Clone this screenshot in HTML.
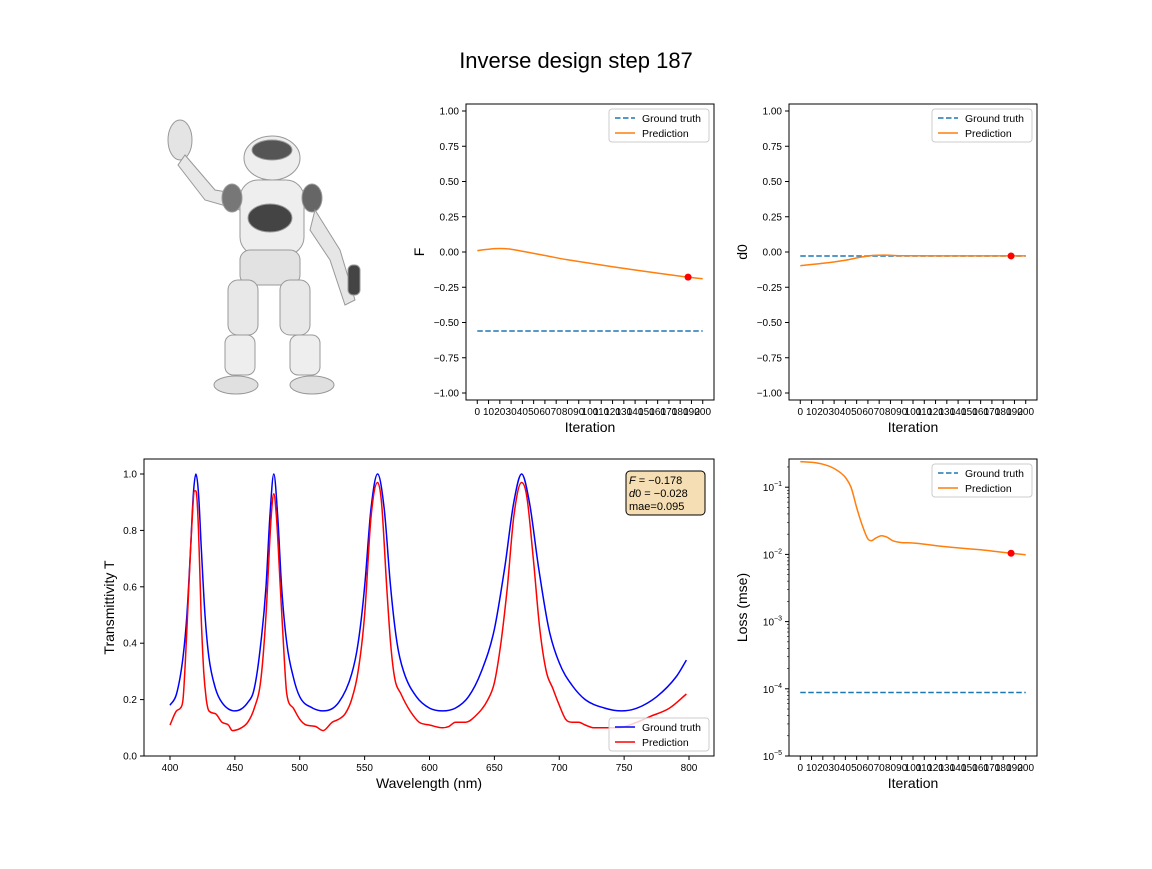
<!DOCTYPE html>
<html><head><meta charset="utf-8">
<style>
body{margin:0;background:#fff;}
svg text{font-family:"Liberation Sans","DejaVu Sans",sans-serif;fill:#000;}
</style></head>
<body>
<svg id="fig" width="1152" height="864" xmlns="http://www.w3.org/2000/svg">
<rect width="1152" height="864" fill="#fff"/>
<text x="576" y="68" font-size="22" text-anchor="middle">Inverse design step 187</text>
<g fill="#d8d8d8" stroke="#999" stroke-width="1">
  <ellipse cx="180" cy="140" rx="12" ry="20" fill="#e4e4e4"/>
  <path d="M185 155 L215 190 L245 195 L240 210 L205 200 L178 165 Z" fill="#e8e8e8"/>
  <ellipse cx="272" cy="158" rx="28" ry="22" fill="#eee"/>
  <ellipse cx="272" cy="150" rx="20" ry="10" fill="#555"/>
  <rect x="240" y="180" width="64" height="75" rx="18" fill="#eee"/>
  <ellipse cx="270" cy="218" rx="22" ry="14" fill="#444"/>
  <ellipse cx="232" cy="198" rx="10" ry="14" fill="#777"/>
  <ellipse cx="312" cy="198" rx="10" ry="14" fill="#666"/>
  <path d="M315 210 L340 250 L355 300 L345 305 L330 260 L310 230 Z" fill="#e6e6e6"/>
  <rect x="348" y="265" width="12" height="30" rx="5" fill="#444"/>
  <rect x="240" y="250" width="60" height="35" rx="10" fill="#e2e2e2"/>
  <rect x="228" y="280" width="30" height="55" rx="10" fill="#e8e8e8"/>
  <rect x="280" y="280" width="30" height="55" rx="10" fill="#e8e8e8"/>
  <rect x="225" y="335" width="30" height="40" rx="8" fill="#eee"/>
  <rect x="290" y="335" width="30" height="40" rx="8" fill="#eee"/>
  <ellipse cx="236" cy="385" rx="22" ry="9" fill="#e0e0e0"/>
  <ellipse cx="312" cy="385" rx="22" ry="9" fill="#e0e0e0"/>
</g>
<g id="plots"></g>
</svg>
<script>
// ---- data ----
const iterTicks=[0,10,20,30,40,50,60,70,80,90,100,110,120,130,140,150,160,170,180,190,200];
const fIter=[0,10,20,30,40,60,80,100,120,140,160,187,200];
const fPred=[0.01,0.02,0.025,0.02,0.005,-0.025,-0.055,-0.08,-0.105,-0.128,-0.15,-0.178,-0.19];
const fTruth=-0.56;
const dIter=[0,20,40,55,65,75,90,120,160,187,200];
const dPred=[-0.097,-0.08,-0.058,-0.035,-0.024,-0.022,-0.027,-0.028,-0.028,-0.028,-0.028];
const dTruth=-0.028;
const lossIter=[0,10,20,30,40,45,50,55,60,63,67,72,77,82,90,100,120,140,160,187,200];
const lossPred=[0.24,0.235,0.22,0.19,0.14,0.1,0.05,0.027,0.017,0.016,0.0175,0.019,0.018,0.016,0.015,0.0148,0.0135,0.0125,0.0117,0.0104,0.0099];
const lossTruth=8.8e-5;
const markIter=187;
const wlTruth=[400,405,410,413,416,418,420,422,424,427,430,435,440,450,460,465,470,474,477,480,483,486,490,495,500,510,518,530,540,545,550,555,560,565,570,575,580,590,600,610,620,630,640,650,658,665,671,677,684,692,700,710,720,735,748,760,775,790,798];
const tTruth=[0.18,0.22,0.35,0.5,0.75,0.93,1.0,0.93,0.75,0.5,0.35,0.24,0.19,0.16,0.19,0.24,0.4,0.6,0.85,1.0,0.85,0.6,0.4,0.28,0.21,0.17,0.16,0.19,0.29,0.4,0.6,0.88,1.0,0.88,0.6,0.4,0.3,0.21,0.17,0.16,0.17,0.21,0.3,0.45,0.67,0.9,1.0,0.9,0.67,0.45,0.33,0.25,0.2,0.17,0.16,0.17,0.21,0.28,0.34];
const wlPred=[400,405,408,410,413,416,419,420,422,424,426,428,430,435,440,445,448,455,460,465,470,474,478,480,482,485,488,490,495,500,505,512,518,525,530,535,540,545,550,555,560,563,567,570,573,578,585,592,600,610,615,620,628,635,645,650,655,660,665,671,675,680,685,690,695,700,705,710,715,720,727,735,745,760,770,785,798];
const tPred=[0.11,0.16,0.17,0.2,0.45,0.75,0.94,0.94,0.8,0.5,0.3,0.2,0.16,0.15,0.12,0.11,0.09,0.1,0.12,0.17,0.27,0.5,0.85,0.93,0.85,0.6,0.35,0.22,0.17,0.13,0.11,0.105,0.09,0.12,0.13,0.15,0.2,0.3,0.5,0.85,0.97,0.9,0.6,0.4,0.28,0.22,0.16,0.12,0.11,0.1,0.105,0.12,0.12,0.14,0.2,0.26,0.4,0.6,0.85,0.97,0.92,0.7,0.45,0.3,0.24,0.18,0.13,0.12,0.12,0.11,0.1,0.1,0.1,0.12,0.14,0.17,0.22];
const wlTicks=[400,450,500,550,600,650,700,750,800];
const tTicks=[0,0.2,0.4,0.6,0.8,1.0];
const linTicks=[-1,-0.75,-0.5,-0.25,0,0.25,0.5,0.75,1];
const logTicks=[-5,-4,-3,-2,-1];

const NS='http://www.w3.org/2000/svg';
const root=document.getElementById('plots');
function el(tag,attrs,parent){const e=document.createElementNS(NS,tag);for(const k in attrs)e.setAttribute(k,attrs[k]);(parent||root).appendChild(e);return e;}
function txt(s,x,y,size,anchor,parent){const t=el('text',{x:x,y:y,'font-size':size,'text-anchor':anchor||'middle'},parent);t.textContent=s;return t;}
function fmt(v){return (v<0?'\u2212':'')+Math.abs(v).toFixed(2);}
function interp(xs,ys,x){for(let i=0;i<xs.length-1;i++){if(x>=xs[i]&&x<=xs[i+1]){const t=(x-xs[i])/(xs[i+1]-xs[i]);return ys[i]+t*(ys[i+1]-ys[i]);}}return ys[ys.length-1];}
// monotone cubic (Fritsch-Carlson) smooth path in pixel space
function pathFrom(xs,ys,sx,sy){
  const X=xs.map(sx),Y=ys.map(sy),n=X.length;
  const d=[],m=[];
  for(let i=0;i<n-1;i++)d.push((Y[i+1]-Y[i])/(X[i+1]-X[i]));
  m[0]=d[0];m[n-1]=d[n-2];
  for(let i=1;i<n-1;i++){m[i]=(d[i-1]*d[i]<=0)?0:(d[i-1]+d[i])/2;}
  for(let i=0;i<n-1;i++){if(d[i]===0){m[i]=0;m[i+1]=0;continue;}const a=m[i]/d[i],b=m[i+1]/d[i],s=a*a+b*b;if(s>9){const t=3/Math.sqrt(s);m[i]=t*a*d[i];m[i+1]=t*b*d[i];}}
  let p='M'+X[0].toFixed(1)+' '+Y[0].toFixed(1);
  for(let i=0;i<n-1;i++){const h=(X[i+1]-X[i])/3;p+=' C'+(X[i]+h).toFixed(1)+' '+(Y[i]+m[i]*h).toFixed(1)+' '+(X[i+1]-h).toFixed(1)+' '+(Y[i+1]-m[i+1]*h).toFixed(1)+' '+X[i+1].toFixed(1)+' '+Y[i+1].toFixed(1);}
  return p;
}

function frame(name){
  const g=el('g',{});
  
  
  return g;
}
function border(g,x0,y0,x1,y1){el('rect',{x:x0,y:y0,width:x1-x0,height:y1-y0,fill:'none',stroke:'#000','stroke-width':1},g);}
function legend(g,x,y,w,labels,colors,dashes){
  const lg=el('g',{},g);
  
  
  el('rect',{x:x,y:y,width:w,height:33,rx:3,fill:'#fff','fill-opacity':0.8,stroke:'#ccc'},lg);
  labels.forEach((l,i)=>{
    const yy=y+9+i*15;
    const ln=el('line',{x1:x+6,x2:x+26,y1:yy,y2:yy,stroke:colors[i],'stroke-width':1.5,'stroke-dasharray':dashes[i]},lg);
    
    
    const t=txt(l,x+33,yy+4,10.5,'start',lg);
    
    
  });
}
function iterAxis(g,sx,yb){
  iterTicks.forEach(v=>{
    el('line',{x1:sx(v),x2:sx(v),y1:yb,y2:yb+4,stroke:'#000'},g);
    const t=txt(String(v),sx(v),yb+15,10,'middle',g);
    
    
  });
  const xl=txt('Iteration',(sx(-10)+sx(210))/2,yb+32,14,'middle',g);
  
  
}

function paramPanel(name,ylabel,x0,it,pred,truth){
  const y0=104,y1=400,x1=x0+248;
  const g=frame(name);
  const sx=v=>x0+(v+10)*248/220;
  const sy=v=>252-v*141;
  linTicks.forEach(v=>{
    el('line',{x1:x0,x2:x0-4,y1:sy(v),y2:sy(v),stroke:'#000'},g);
    const t=txt(fmt(v),x0-7,sy(v)+3.5,10,'end',g);
    
    
  });
  iterAxis(g,sx,y1);
  const yl=txt(ylabel,0,0,14,'middle',g);
  yl.setAttribute('transform','translate('+(x0-42)+','+((y0+y1)/2)+') rotate(-90)');
  
  
  const gt=el('line',{x1:sx(0),x2:sx(200),y1:sy(truth),y2:sy(truth),stroke:'#1f77b4','stroke-width':1.5,'stroke-dasharray':'5.5,2.5'},g);
  
  
  const p=el('path',{d:pathFrom(it,pred,sx,sy),fill:'none',stroke:'#ff7f0e','stroke-width':1.5},g);
  
  
  const m=el('circle',{cx:sx(markIter),cy:sy(interp(it,pred,markIter)),r:3.5,fill:'red'},g);
  
  
  border(g,x0,y0,x1,y1);
  legend(g,x1-105,y0+5,100,['Ground truth','Prediction'],['#1f77b4','#ff7f0e'],['5.5,2.5','none']);
}
paramPanel('f-panel','F',466,fIter,fPred,fTruth);
paramPanel('d0-panel','d0',789,dIter,dPred,dTruth);

(function(){
  const x0=789,x1=1037,y0=459,y1=756;
  const g=frame('loss-panel');
  const sx=v=>x0+(v+10)*248/220;
  const sy=v=>756-(Math.log10(v)+5)*67.2;
  for(let d=-5;d<-0.5;d++){for(let k=2;k<10;k++){const v=k*Math.pow(10,d);const yy=sy(v);if(yy>y0)el('line',{x1:x0,x2:x0-2,y1:yy,y2:yy,stroke:'#000','stroke-width':0.6},g);}}
  logTicks.forEach(e=>{
    const yy=sy(Math.pow(10,e));
    el('line',{x1:x0,x2:x0-4,y1:yy,y2:yy,stroke:'#000'},g);
    const t=el('text',{x:x0-7,y:yy+4,'font-size':10,'text-anchor':'end'},g);
    
    
    t.innerHTML='10<tspan dy="-5" font-size="7">\u2212'+Math.abs(e)+'</tspan>';
  });
  iterAxis(g,sx,y1);
  const yl=txt('Loss (mse)',0,0,14,'middle',g);
  yl.setAttribute('transform','translate('+(x0-42)+','+((y0+y1)/2)+') rotate(-90)');
  
  
  const gt=el('line',{x1:sx(0),x2:sx(200),y1:sy(lossTruth),y2:sy(lossTruth),stroke:'#1f77b4','stroke-width':1.5,'stroke-dasharray':'5.5,2.5'},g);
  
  
  const p=el('path',{d:pathFrom(lossIter,lossPred,sx,sy),fill:'none',stroke:'#ff7f0e','stroke-width':1.5},g);
  
  
  const m=el('circle',{cx:sx(markIter),cy:sy(interp(lossIter,lossPred,markIter)),r:3.5,fill:'red'},g);
  
  
  border(g,x0,y0,x1,y1);
  legend(g,x1-105,y0+5,100,['Ground truth','Prediction'],['#1f77b4','#ff7f0e'],['5.5,2.5','none']);
})();

(function(){
  const x0=144,x1=714,y0=459,y1=756;
  const g=frame('transmittivity-panel');
  const sx=v=>170+(v-400)*519/400;
  const sy=v=>756-v*282;
  tTicks.forEach(v=>{
    el('line',{x1:x0,x2:x0-4,y1:sy(v),y2:sy(v),stroke:'#000'},g);
    const t=txt(v.toFixed(1),x0-7,sy(v)+3.5,10,'end',g);
    
    
  });
  wlTicks.forEach(v=>{
    el('line',{x1:sx(v),x2:sx(v),y1:y1,y2:y1+4,stroke:'#000'},g);
    const t=txt(String(v),sx(v),y1+15,10,'middle',g);
    
    
  });
  const xl=txt('Wavelength (nm)',(x0+x1)/2,y1+32,14,'middle',g);
  
  
  const yl=txt('Transmittivity T',0,0,14,'middle',g);
  yl.setAttribute('transform','translate(114,'+((y0+y1)/2)+') rotate(-90)');
  
  
  const b=el('path',{d:pathFrom(wlTruth,tTruth,sx,sy),fill:'none',stroke:'blue','stroke-width':1.5,'stroke-linejoin':'round'},g);
  
  
  const r=el('path',{d:pathFrom(wlPred,tPred,sx,sy),fill:'none',stroke:'red','stroke-width':1.5,'stroke-linejoin':'round'},g);
  
  
  border(g,x0,y0,x1,y1);
  const ib=el('g',{},g);
  
  
  el('rect',{x:626,y:471,width:79,height:44,rx:4,fill:'#f5deb3',stroke:'#000','stroke-width':1},ib);
  const l1=el('text',{x:629,y:484,'font-size':11},ib);l1.innerHTML='<tspan font-style="italic">F</tspan> = \u22120.178';
  const l2=el('text',{x:629,y:497,'font-size':11},ib);l2.innerHTML='<tspan font-style="italic">d</tspan>0 = \u22120.028';
  txt('mae=0.095',629,510,11,'start',ib);
  const lg=el('g',{},g);
  
  
  el('rect',{x:609,y:718,width:100,height:33,rx:3,fill:'#fff','fill-opacity':0.8,stroke:'#ccc'},lg);
  [['Ground truth','blue'],['Prediction','red']].forEach((a,i)=>{
    const yy=727+i*15;
    el('line',{x1:615,x2:635,y1:yy,y2:yy,stroke:a[1],'stroke-width':1.5},lg);
    const t=txt(a[0],642,yy+4,10.5,'start',lg);
    
    
  });
})();
</script>
</body></html>
